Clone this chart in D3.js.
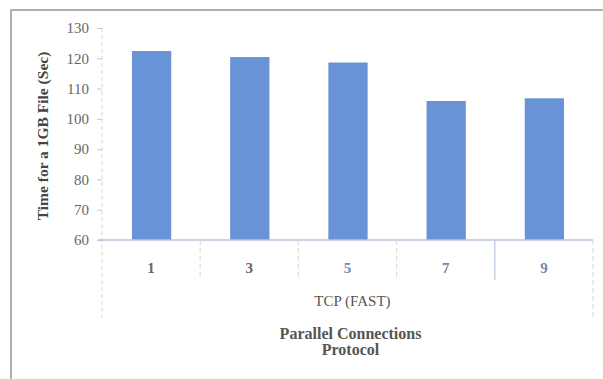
<!DOCTYPE html>
<html><head><meta charset="utf-8">
<script src="https://cdn.jsdelivr.net/npm/d3@7"></script>
<style>
html,body{margin:0;padding:0;background:#fff;}
</style></head>
<body>
<svg id="chart" width="603" height="379" font-family="'Liberation Serif', 'DejaVu Serif', serif"></svg>
<script>
const categories = ["1","3","5","7","9"];
const values = [122.4, 120.4, 118.6, 105.9, 106.8];
const yTicks = [60,70,80,90,100,110,120,130];
const groupLabel = "TCP (FAST)";
const xTitle = ["Parallel Connections","Protocol"];
const yTitle = "Time for a 1GB File (Sec)";

const FONT = "'Liberation Serif', 'DejaVu Serif', serif";
const svg = d3.select("#chart");
const m = {left:102, right:593, top:28, bottom:240};

// outer frame
svg.append("path").attr("d","M11,380 V10 H603").attr("fill","none")
  .attr("stroke","#b0b0b0").attr("stroke-width",2);

const x = d3.scaleBand().domain(categories).range([m.left, m.right]).paddingInner(0).paddingOuter(0);
const y = d3.scaleLinear().domain([60,130]).range([m.bottom, m.top]);

// y axis dashed light line
svg.append("line").attr("x1",m.left).attr("x2",m.left).attr("y1",m.top).attr("y2",318)
  .attr("stroke","#d4d4d4").attr("stroke-dasharray","4,3");

// y axis ticks and labels
const yAxis = d3.axisLeft(y).tickValues(yTicks).tickSize(5).tickPadding(8);
const gy = svg.append("g").attr("transform",`translate(${m.left},0)`).call(yAxis)
  .attr("font-family",FONT);
gy.select(".domain").remove();
gy.selectAll(".tick line").attr("stroke","#c8c8c8");
gy.selectAll(".tick text").attr("fill","#666").attr("font-size","15px").attr("font-family",FONT);

// bars
svg.selectAll("rect.bar").data(values).enter().append("rect").attr("class","bar")
  .attr("x",(d,i)=>x(categories[i]) + x.bandwidth()*0.305)
  .attr("width",x.bandwidth()*0.4)
  .attr("y",d=>y(d)).attr("height",d=>y(60)-y(d))
  .attr("fill","#6a92d6");

// x axis baseline
svg.append("line").attr("x1",m.left-4).attr("x2",m.right).attr("y1",m.bottom).attr("y2",m.bottom)
  .attr("stroke","#b8c4d8").attr("stroke-width",1.5);

// category separators
categories.forEach((c,i)=>{
  if(i>0){
    svg.append("line").attr("x1",x(c)).attr("x2",x(c)).attr("y1",m.bottom).attr("y2",280)
      .attr("stroke", i===4 ? "#b8c6e0" : "#dcdcdc").attr("stroke-width",1.2)
      .attr("stroke-dasharray", i===4 ? null : "5,3");
  }
});
svg.append("line").attr("x1",m.right).attr("x2",m.right).attr("y1",m.bottom).attr("y2",318)
  .attr("stroke","#d4d4d4").attr("stroke-dasharray","5,3");

// category labels
svg.selectAll("text.cat").data(categories).enter().append("text").attr("class","cat")
  .attr("x",d=>x(d)+x.bandwidth()/2).attr("y",273).attr("text-anchor","middle")
  .attr("font-family",FONT).attr("font-size","15px").attr("font-weight","bold")
  .attr("fill",(d,i)=> i>=2 ? "#7088b4" : "#666").text(d=>d);

// group label
svg.append("text").attr("x",(m.left+m.right)/2 + 5).attr("y",306).attr("text-anchor","middle")
  .attr("font-family",FONT).attr("font-size","15px").attr("fill","#555").text(groupLabel);

// x title
xTitle.forEach((t,i)=>{
  svg.append("text").attr("x",(m.left+m.right)/2 + 3).attr("y",339+i*16).attr("text-anchor","middle")
    .attr("font-family",FONT).attr("font-size","16px").attr("font-weight","bold").attr("fill","#555").text(t);
});

// y title
svg.append("text").attr("transform",`translate(48,${(m.top+m.bottom)/2 + 2}) rotate(-90)`)
  .attr("text-anchor","middle").attr("font-family",FONT).attr("font-size","15.5px").attr("font-weight","bold")
  .attr("fill","#444").text(yTitle);
</script>
</body></html>
